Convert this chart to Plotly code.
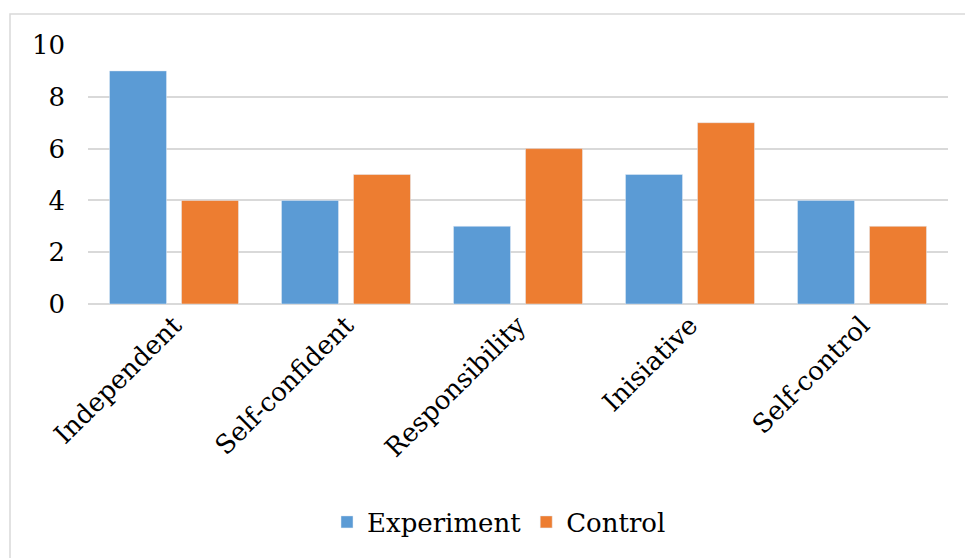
import plotly.graph_objects as go

categories = ["Independent", "Self-confident", "Responsibility", "Inisiative", "Self-control"]
experiment = [9, 4, 3, 5, 4]
control = [4, 5, 6, 7, 3]
y_ticks = [0, 2, 4, 6, 8, 10]

W, H = 965, 558
L, R, T, B = 88, 17, 45, 254
pw, ph = W - L - R, H - T - B

def px_x(x):
    return (x - L) / pw

def px_y(y):
    return (H - B - y) / ph

font_family = "DejaVu Serif"
fsize = 26
grid = "#d9d9d9"

fig = go.Figure()
fig.add_trace(go.Bar(name="Experiment", x=categories, y=experiment, marker_color="#5B9BD5"))
fig.add_trace(go.Bar(name="Control", x=categories, y=control, marker_color="#ED7D31"))

fig.update_layout(
    width=W, height=H,
    margin=dict(l=L, r=R, t=T, b=B),
    paper_bgcolor="white", plot_bgcolor="white",
    barmode="group", bargap=0.163, bargroupgap=0.208,
    font=dict(family=font_family, size=fsize, color="black"),
    showlegend=True,
    legend=dict(orientation="h", x=px_x(499), xanchor="center", y=px_y(522), yanchor="middle",
                font=dict(family=font_family, size=fsize), itemwidth=30, traceorder="normal"),
    xaxis=dict(tickangle=-45, showgrid=False, showline=False, ticks="",
               tickfont=dict(family=font_family, size=fsize)),
    yaxis=dict(range=[0, 10], tickvals=y_ticks, showgrid=True, gridcolor=grid, gridwidth=1.5,
               zeroline=True, zerolinecolor=grid, zerolinewidth=1.5, showline=False,
               ticks="", ticklabelstandoff=22, tickfont=dict(family=font_family, size=fsize)),
    shapes=[
        dict(type="rect", xref="paper", yref="paper",
             x0=px_x(10), x1=px_x(975), y0=px_y(570), y1=px_y(14),
             line=dict(color=grid, width=1.5), fillcolor="rgba(0,0,0,0)", layer="below"),
    ],
)

fig.write_html("out.html")
